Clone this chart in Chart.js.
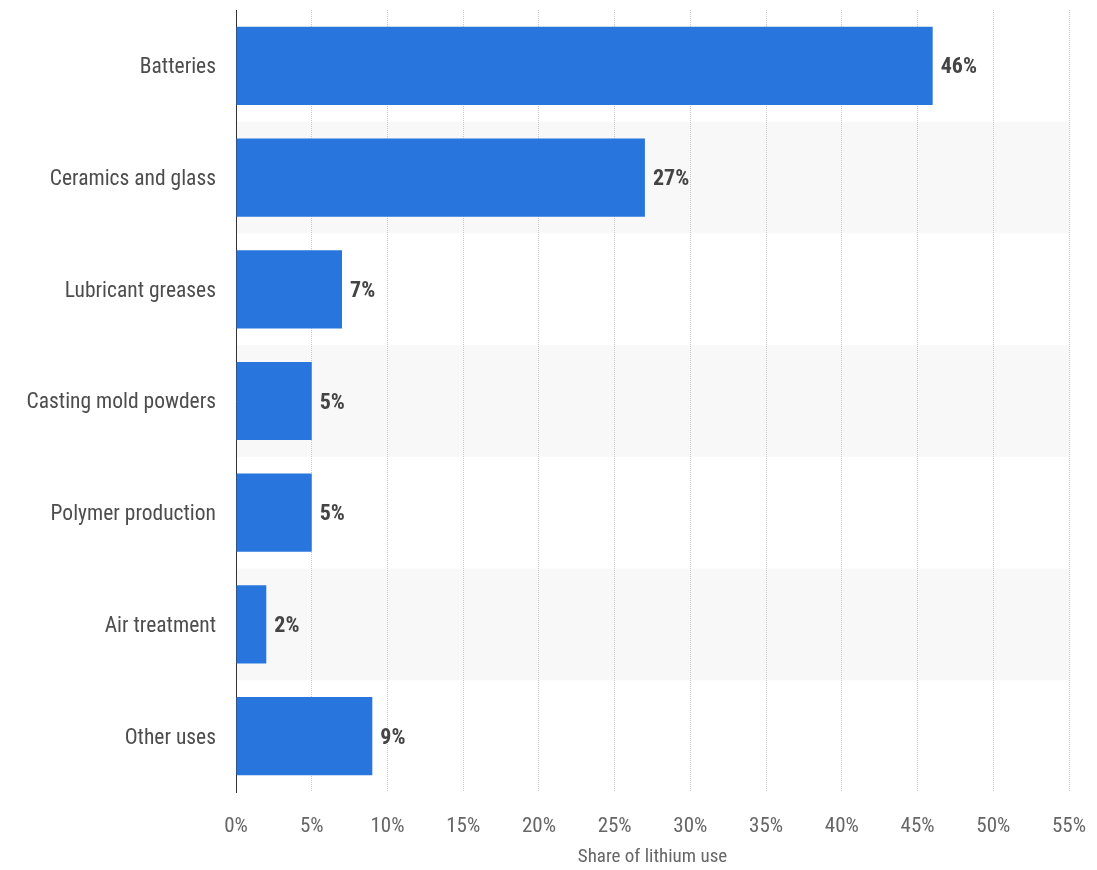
<!DOCTYPE html>
<html>
<head>
<meta charset="utf-8">
<script src="https://cdn.jsdelivr.net/npm/chart.js@4/dist/chart.umd.min.js"></script>
<style>
  html, body { margin: 0; padding: 0; background: #ffffff; }
  #wrap { width: 1097px; height: 870px; }
</style>
</head>
<body>
<div id="wrap"><canvas id="c" width="1097" height="870"></canvas></div>
<script>
const categories = ["Batteries", "Ceramics and glass", "Lubricant greases", "Casting mold powders", "Polymer production", "Air treatment", "Other uses"];
const shareValues = [46, 27, 7, 5, 5, 2, 9];
const axisTitle = "Share of lithium use";

const FONT = "'Liberation Sans Narrow', 'Arial Narrow', 'Roboto Condensed', 'Open Sans', sans-serif";

const bandPlugin = {
  id: 'bands',
  beforeDraw(chart) {
    const { ctx, chartArea, scales } = chart;
    const y = scales.y;
    const n = categories.length;
    const h = (chartArea.bottom - chartArea.top) / n;
    ctx.save();
    ctx.fillStyle = '#f8f8f8';
    for (let i = 0; i < n; i++) {
      if (i % 2 === 1) {
        const cy = y.getPixelForValue(i);
        ctx.fillRect(chartArea.left, cy - h / 2, chartArea.right - chartArea.left, h);
      }
    }
    ctx.restore();
  }
};

const valueLabelPlugin = {
  id: 'valueLabels',
  afterDatasetsDraw(chart) {
    const { ctx } = chart;
    const meta = chart.getDatasetMeta(0);
    ctx.save();
    ctx.font = 'bold 22px ' + FONT;
    ctx.fillStyle = '#444444';
    ctx.textAlign = 'left';
    ctx.textBaseline = 'middle';
    meta.data.forEach((bar, i) => {
      ctx.fillText(shareValues[i] + '%', bar.x + 8, bar.y + 2);
    });
    ctx.restore();
  }
};

new Chart(document.getElementById('c'), {
  type: 'bar',
  data: {
    labels: categories,
    datasets: [{
      data: shareValues,
      backgroundColor: '#2876dd',
      borderWidth: 0,
      barPercentage: 0.7,
      categoryPercentage: 1.0
    }]
  },
  options: {
    indexAxis: 'y',
    responsive: false,
    animation: false,
    devicePixelRatio: 1,
    layout: { padding: { top: 10, right: 28, left: 0, bottom: 0 } },
    plugins: {
      legend: { display: false },
      tooltip: { enabled: false }
    },
    scales: {
      x: {
        min: 0,
        max: 55,
        ticks: {
          stepSize: 5,
          callback: v => v + '%',
          color: '#666666',
          font: { family: FONT, size: 21 },
          padding: 22,
          maxRotation: 0
        },
        grid: { display: true, color: '#c8c8c8', drawTicks: false, lineWidth: 1 },
        border: { display: false, dash: [1, 1] },
        title: {
          display: true,
          text: axisTitle,
          color: '#666666',
          font: { family: FONT, size: 19 },
          padding: { top: 0, bottom: 1 }
        },
        afterFit(scale) {
          scale.height = 78;
          scale.paddingLeft = 0;
          scale.paddingRight = 0;
        }
      },
      y: {
        ticks: {
          color: '#4d4d4d',
          font: { family: FONT, size: 21.5 },
          padding: 20,
          labelOffset: 2
        },
        grid: { display: false, drawTicks: false },
        border: { display: true, color: '#333333', width: 1 },
        afterFit(scale) {
          scale.width = 236;
          scale.paddingTop = 0;
          scale.paddingBottom = 0;
        }
      }
    }
  },
  plugins: [bandPlugin, valueLabelPlugin]
});
</script>
</body>
</html>
